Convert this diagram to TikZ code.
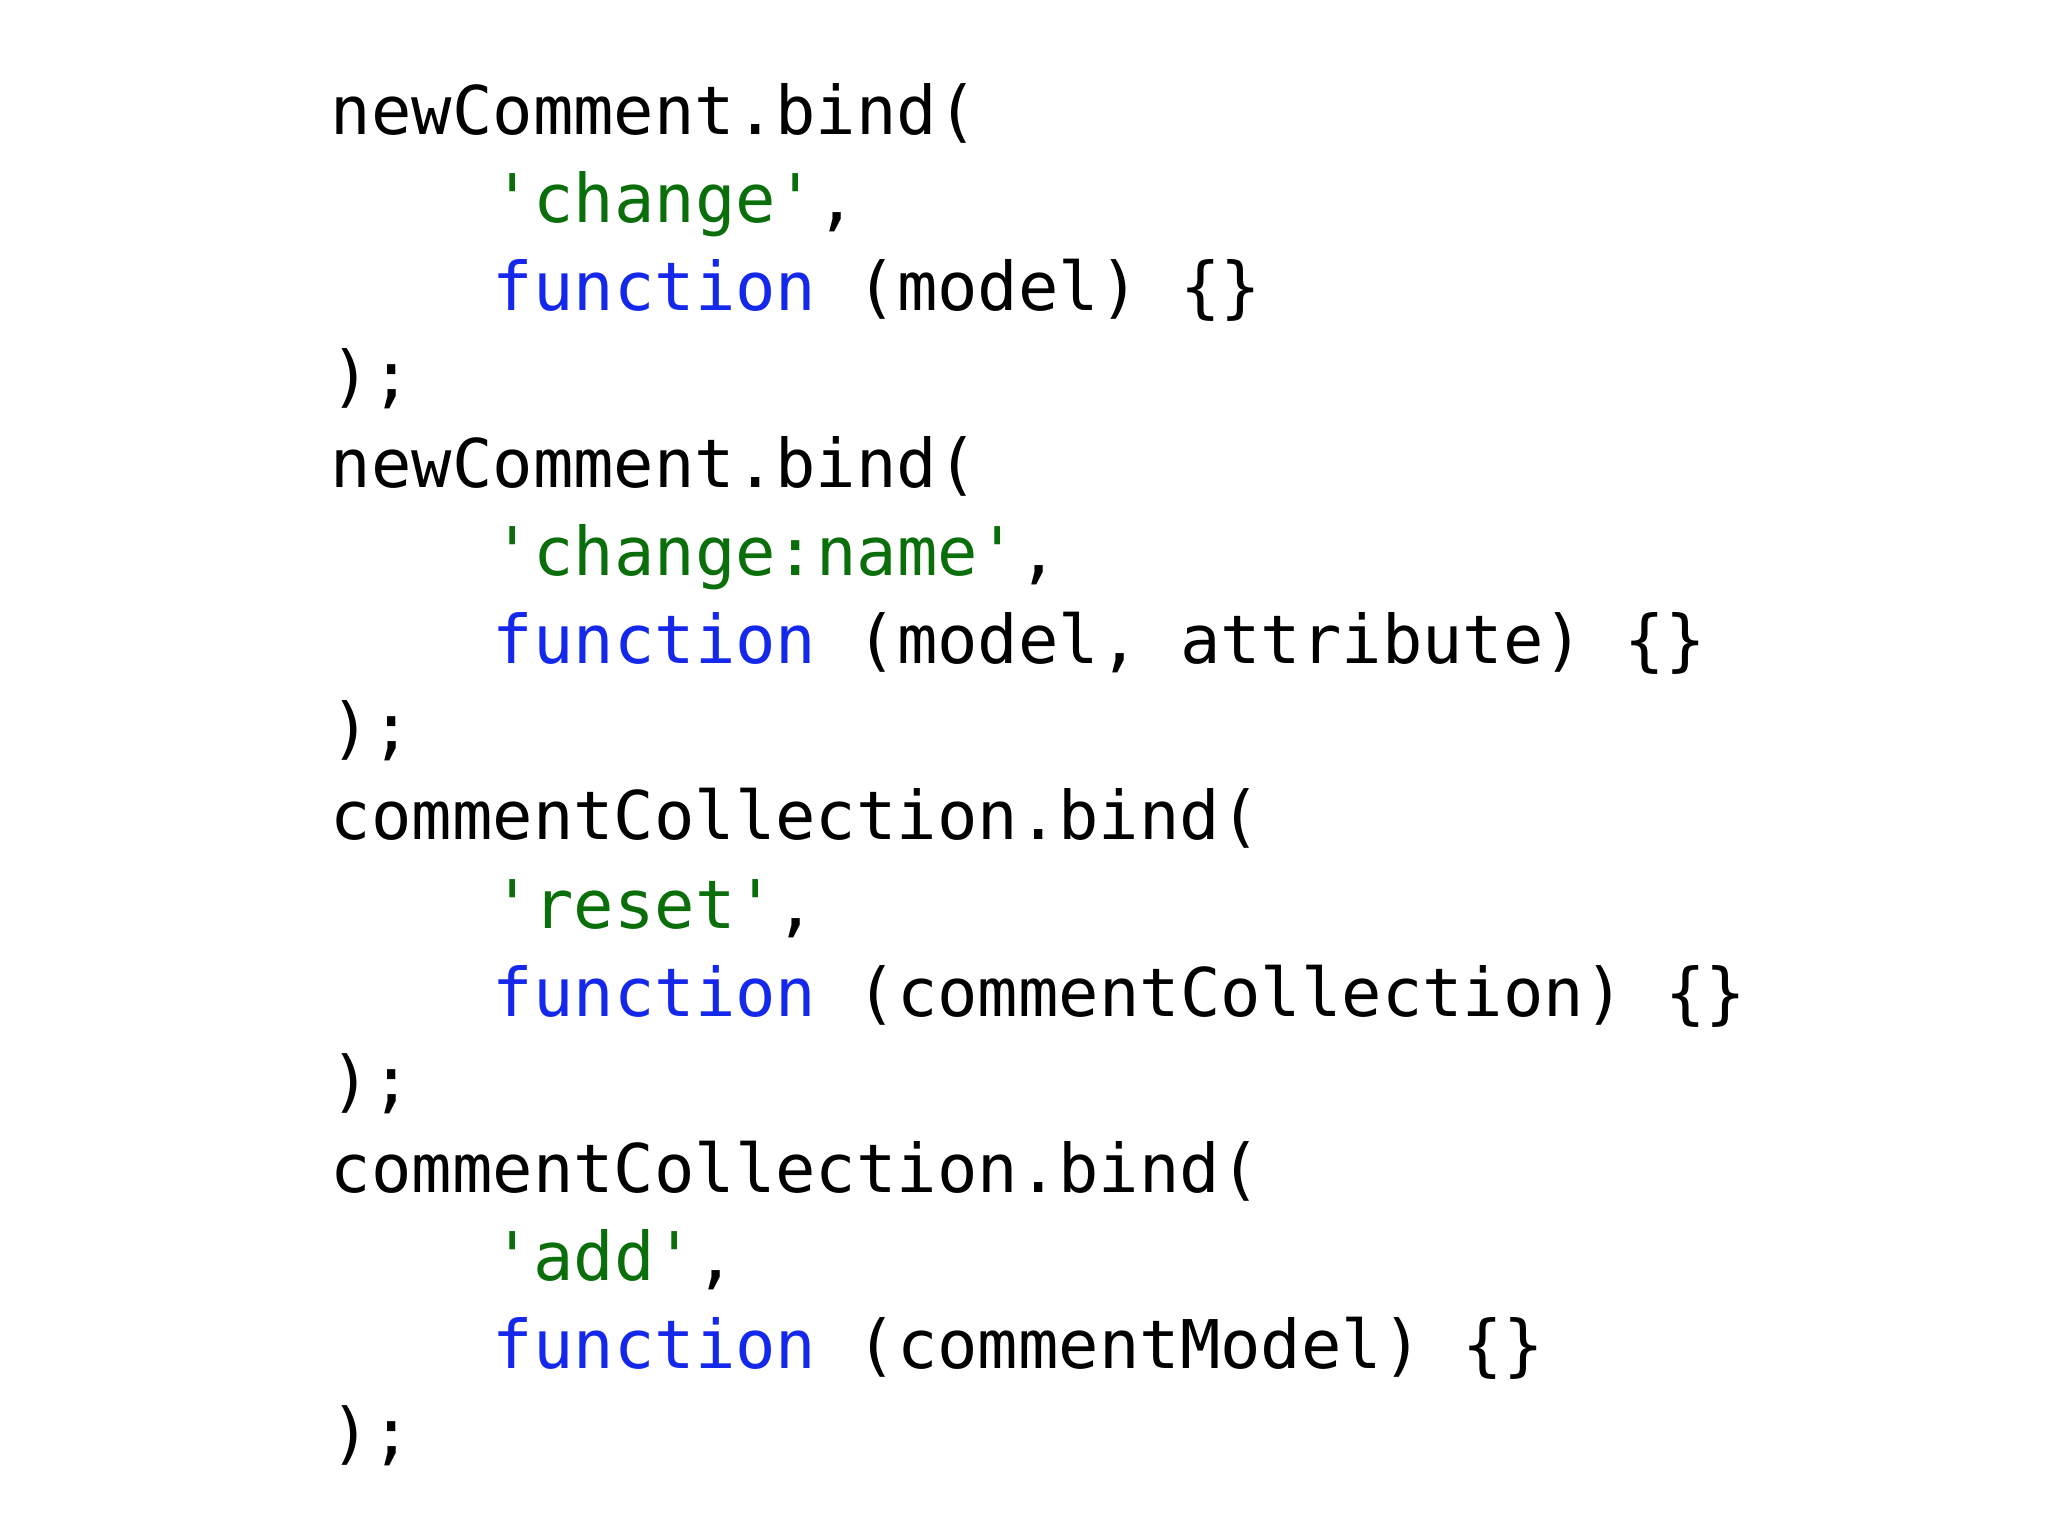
\documentclass[tikz,border=0pt]{standalone}
\usepackage{fontspec}
\setmonofont{DejaVu Sans Mono}
\definecolor{kw}{RGB}{20,40,235}
\definecolor{str}{RGB}{10,110,10}
\tikzset{codeline/.style={anchor=base west,inner sep=0pt,font=\ttfamily\fontsize{25.7}{30}\selectfont,text=black}}
\newcommand{\kwd}[1]{\textcolor{kw}{#1}}
\newcommand{\strg}[1]{\textcolor{str}{#1}}
\begin{document}
\begin{tikzpicture}[x=0.5pt,y=-0.5pt]
\useasboundingbox (0,0) rectangle (1568,1176);
\def\L{253}\def\I{377}
\node[codeline] (l1) at (\L,103) {newComment.bind(};
\node[codeline] (l2) at (\I,170.5) {\strg{'change'},};
\node[codeline] (l3) at (\I,238) {\kwd{function} (model) \{\}};
\node[codeline] (l4) at (\L,305.5) {);};
\node[codeline] (l5) at (\L,373) {newComment.bind(};
\node[codeline] (l6) at (\I,440.5) {\strg{'change:name'},};
\node[codeline] (l7) at (\I,508) {\kwd{function} (model, attribute) \{\}};
\node[codeline] (l8) at (\L,575.5) {);};
\node[codeline] (l9) at (\L,643) {commentCollection.bind(};
\node[codeline] (l10) at (\I,710.5) {\strg{'reset'},};
\node[codeline] (l11) at (\I,778) {\kwd{function} (commentCollection) \{\}};
\node[codeline] (l12) at (\L,845.5) {);};
\node[codeline] (l13) at (\L,913) {commentCollection.bind(};
\node[codeline] (l14) at (\I,980.5) {\strg{'add'},};
\node[codeline] (l15) at (\I,1048) {\kwd{function} (commentModel) \{\}};
\node[codeline] (l16) at (\L,1115.5) {);};
\end{tikzpicture}
\end{document}
